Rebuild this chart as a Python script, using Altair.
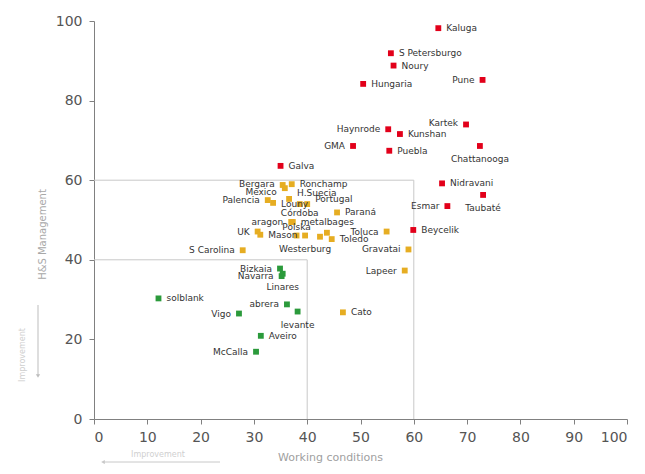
import altair as alt
import pandas as pd

# ---- data ----
red_names = ["Kaluga", "S Petersburgo", "Noury", "Hungaria", "Pune", "Kartek", "Haynrode",
             "Kunshan", "GMA", "Puebla", "Chattanooga", "Galva", "Nidravani", "Taubaté",
             "Esmar", "Beycelik"]
red_wc = [64.6, 55.7, 56.2, 50.5, 72.9, 69.8, 55.2, 57.4, 48.6, 55.4, 72.4, 35.0, 65.3, 73.0, 66.3, 59.9]
red_hs = [98.2, 91.9, 88.8, 84.2, 85.2, 74.0, 72.8, 71.6, 68.6, 67.4, 68.6, 63.6, 59.2, 56.3, 53.5, 47.5]
red_side = ["r", "r", "r", "r", "l", "l", "l", "r", "l", "r", "b", "r", "r", "b", "l", "r"]
red_shift = [0, 0, 0, 0, 0, -1, 0, 0, 0, 0, 0, 0, 0, 0, 0, 0]

orange_names = ["Bergara", "Mexico", "Ronchamp", "H.Suecia", "Palencia", "Louny", "Córdoba",
                "Portugal", "Paraná", "aragon", "metalbages", "UK", "Mason", "Polska",
                "Westerburg", "", "", "Toledo", "Toluca", "S Carolina", "Gravatai", "Lapeer", "Cato"]
orange_wc = [35.4, 35.8, 37.1, 36.6, 32.6, 33.6, 38.6, 40.0, 45.6, 37.0, 37.3, 30.7, 31.2, 38.0,
             39.6, 42.4, 43.7, 44.6, 54.9, 27.9, 59.0, 58.3, 46.7]
orange_hs = [58.8, 58.0, 59.0, 55.3, 55.0, 54.3, 54.0, 54.0, 51.9, 49.5, 49.5, 47.1, 46.3, 46.1,
             46.1, 45.8, 46.8, 45.2, 47.1, 42.4, 42.6, 37.3, 26.8]
orange_side = ["l", "l", "r", "r", "l", "r", "b", "r", "r", "l", "r", "l", "r", "t",
               "b", "r", "r", "r", "l", "l", "l", "l", "r"]
orange_shift = [-1, 4, 0, -6, 0, 1, -4, -5, 0, 0, 0, 0, 0, 0, 0, 0, 0, 0, 0, 0, 0, 0, 0]

green_names = ["Bizkaia", "Navarra", "Linares", "solblank", "abrera", "levante", "Vigo", "Aveiro", "McCalla"]
green_wc = [34.9, 35.2, 35.4, 12.1, 36.2, 38.2, 27.2, 31.3, 30.4]
green_hs = [37.8, 35.9, 36.5, 30.3, 28.8, 27.0, 26.5, 20.9, 16.9]
green_side = ["l", "l", "b", "r", "l", "b", "l", "r", "l"]
green_shift = [0, 0, 0, 0, 0, 0, 0, 0, 0]

boxes = [40, 60]
x_ticks = list(range(0, 101, 5))
y_ticks = list(range(0, 101, 5))

# ---- tables ----
rows = []
for grp, n, xs, ys, sd, sh in [
    ("red", red_names, red_wc, red_hs, red_side, red_shift),
    ("orange", orange_names, orange_wc, orange_hs, orange_side, orange_shift),
    ("green", green_names, green_wc, green_hs, green_side, green_shift),
]:
    for i in range(len(n)):
        rows.append({"name": n[i], "wc": xs[i], "hs": ys[i], "grp": grp, "side": sd[i], "shift": sh[i]})
df = pd.DataFrame(rows)

box_rows = []
for s in boxes:
    box_rows.append({"x": 0, "x2": s, "y": s, "y2": s})
    box_rows.append({"x": s, "x2": s, "y": 0, "y2": s})
box_df = pd.DataFrame(box_rows)

xscale = alt.Scale(domain=[0, 100], nice=False, zero=True)
yscale = alt.Scale(domain=[0, 100], nice=False, zero=True)

lbl_expr = "datum.value % 10 == 0 ? datum.label : ''"
x_axis = alt.Axis(values=x_ticks, labelExpr=lbl_expr, title="Working conditions",
                  titleX=236, titleY=38, titleBaseline="middle", titleFontSize=11,
                  titleColor="#a0a0a0", titleFontWeight="normal", labelPadding=6)
y_axis = alt.Axis(values=y_ticks, labelExpr=lbl_expr, title="H&S Management",
                  titleX=-52, titleY=213, titleAngle=270, titleAlign="center",
                  titleBaseline="middle", titleFontSize=10, titleColor="#a8a8a8",
                  titleFontWeight="normal", labelPadding=7)

rules = alt.Chart(box_df).mark_rule(color="#c8c8c8", strokeWidth=1).encode(
    x=alt.X("x:Q", scale=xscale, axis=x_axis),
    x2="x2:Q",
    y=alt.Y("y:Q", scale=yscale, axis=y_axis),
    y2="y2:Q",
)

color = alt.Color("grp:N", scale=alt.Scale(domain=["red", "orange", "green"],
                                           range=["#e2001a", "#e6ad22", "#2b9a3b"]), legend=None)

points = alt.Chart(df).mark_square(size=34, opacity=1).encode(
    x=alt.X("wc:Q", scale=xscale),
    y=alt.Y("hs:Q", scale=yscale),
    color=color,
)

base = alt.Chart(df).transform_calculate(ylab="datum.hs - datum.shift * 100 / 398")
tstyle = dict(font="DejaVu Sans", fontSize=9, color="#333333", baseline="middle")
enc = dict(x=alt.X("wc:Q", scale=xscale), y=alt.Y("ylab:Q", scale=yscale), text="name:N")

lab_r = base.transform_filter("datum.side == 'r'").mark_text(align="left", dx=8, **tstyle).encode(**enc)
lab_l = base.transform_filter("datum.side == 'l'").mark_text(align="right", dx=-8, **tstyle).encode(**enc)
lab_b = base.transform_filter("datum.side == 'b'").mark_text(align="center", dy=13, **tstyle).encode(**enc)
lab_t = base.transform_filter("datum.side == 't'").mark_text(align="center", dy=-9, **tstyle).encode(**enc)

one = pd.DataFrame({"a": [0]})
ann_col = "#cfcfcf"
imp_left = alt.Chart(one).mark_text(angle=270, fontSize=8, color=ann_col, font="DejaVu Sans").encode(
    x=alt.value(-71), y=alt.value(334), text=alt.value("Improvement"))
arr_left = alt.Chart(one).mark_rule(color="#bdbdbd", strokeWidth=1).encode(
    x=alt.value(-56), y=alt.value(284), y2=alt.value(354))
head_left = alt.Chart(one).mark_point(shape="triangle-down", filled=True, size=18, color="#bdbdbd", opacity=1).encode(
    x=alt.value(-56), y=alt.value(355))
imp_bot = alt.Chart(one).mark_text(fontSize=8, color=ann_col, font="DejaVu Sans").encode(
    x=alt.value(64), y=alt.value(434), text=alt.value("Improvement"))
arr_bot = alt.Chart(one).mark_rule(color="#c8c8c8", strokeWidth=1).encode(
    x=alt.value(10), x2=alt.value(126), y=alt.value(441))
head_bot = alt.Chart(one).mark_point(shape="triangle-left", filled=True, size=18, color="#c8c8c8", opacity=1).encode(
    x=alt.value(9), y=alt.value(441))

chart = alt.layer(rules, points, lab_r, lab_l, lab_b, lab_t,
                  imp_left, arr_left, head_left, imp_bot, arr_bot, head_bot).properties(
    width=533, height=398,
    padding={"left": 86, "top": 13, "right": 10, "bottom": 45},
    autosize=alt.AutoSizeParams(type="none"),
).configure_view(stroke=None).configure_axis(
    grid=False, domainColor="#808080", tickColor="#808080", tickSize=5,
    labelColor="#555555", labelFont="DejaVu Sans", labelFontSize=14,
    titleFont="DejaVu Sans",
)

chart.save("out.html", embed_options={"renderer": "svg", "actions": False})
